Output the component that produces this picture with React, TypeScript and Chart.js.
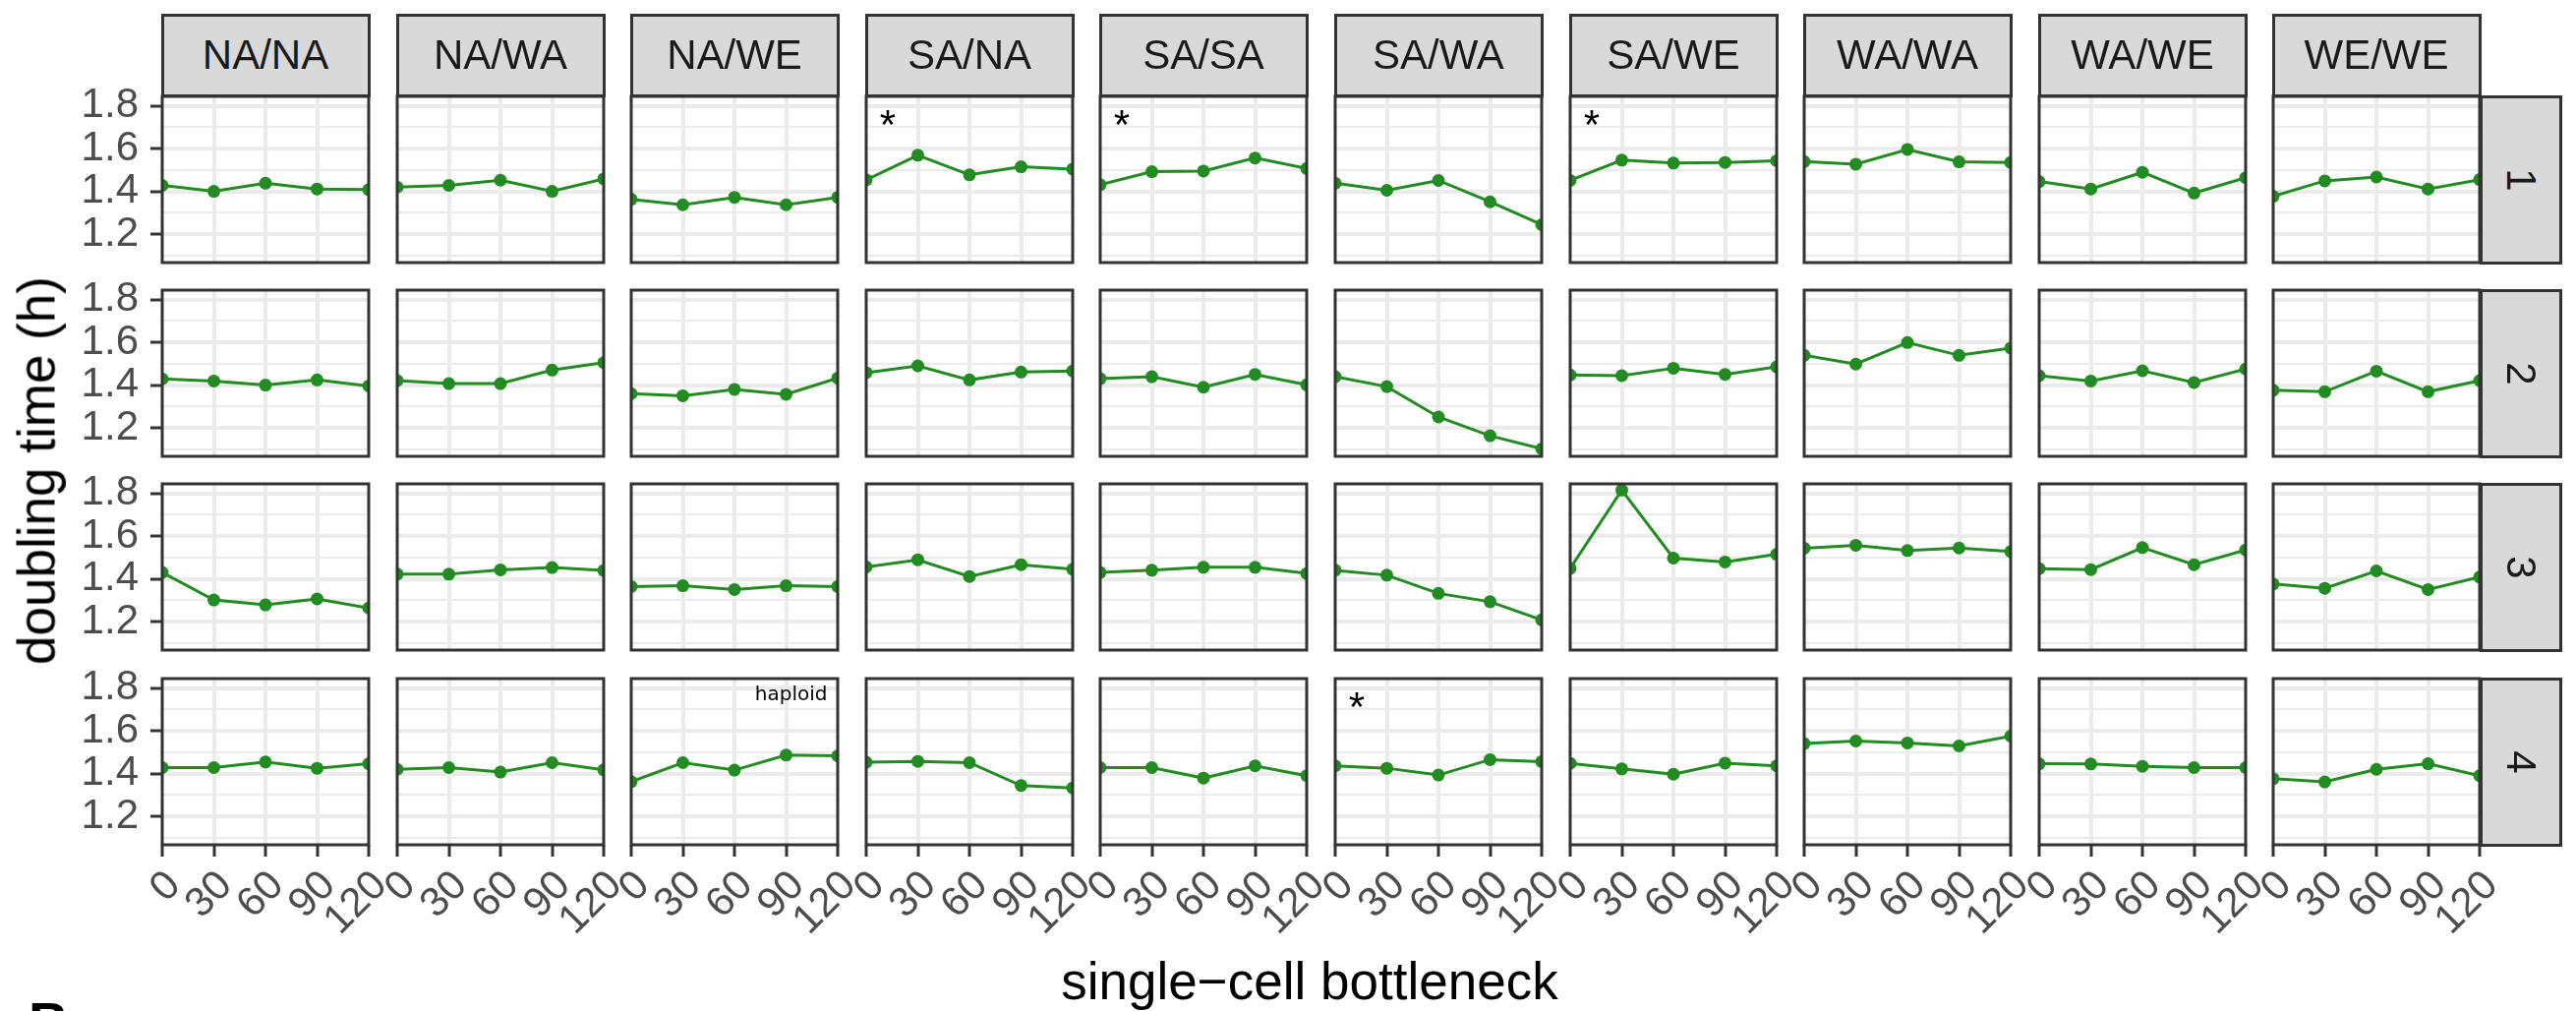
import React, { useEffect, useRef } from "react";
import { Chart, registerables } from "chart.js";

Chart.register(...registerables);

// ---------------- data ----------------
const FACETS = ["NA/NA", "NA/WA", "NA/WE", "SA/NA", "SA/SA", "SA/WA", "SA/WE", "WA/WA", "WA/WE", "WE/WE"];
const REPLICATES = ["1", "2", "3", "4"];
const BOTTLENECKS = [0, 30, 60, 90, 120];
const X_TICK_LABELS = ["0", "30", "60", "90", "120"];
const Y_MAJOR_TICKS = [1.2, 1.4, 1.6, 1.8];
const Y_MINOR_TICKS = [1.1, 1.3, 1.5, 1.7];
const Y_MIN = 1.067;
const Y_MAX = 1.844;

const DOUBLING_REP1 = [
  [1.428, 1.400, 1.438, 1.411, 1.408],
  [1.420, 1.428, 1.452, 1.400, 1.458],
  [1.363, 1.337, 1.372, 1.337, 1.372],
  [1.454, 1.569, 1.477, 1.515, 1.504],
  [1.431, 1.492, 1.495, 1.556, 1.507],
  [1.438, 1.405, 1.451, 1.351, 1.244],
  [1.451, 1.546, 1.532, 1.535, 1.543],
  [1.539, 1.527, 1.596, 1.538, 1.535],
  [1.446, 1.411, 1.489, 1.392, 1.464],
  [1.377, 1.449, 1.467, 1.411, 1.455],
];
const DOUBLING_REP2 = [
  [1.429, 1.419, 1.400, 1.424, 1.396],
  [1.421, 1.407, 1.407, 1.470, 1.505],
  [1.360, 1.350, 1.380, 1.357, 1.433],
  [1.458, 1.490, 1.424, 1.461, 1.466],
  [1.430, 1.439, 1.390, 1.450, 1.401],
  [1.439, 1.393, 1.251, 1.163, 1.102],
  [1.447, 1.444, 1.479, 1.450, 1.485],
  [1.539, 1.498, 1.599, 1.539, 1.573],
  [1.444, 1.419, 1.467, 1.412, 1.475],
  [1.376, 1.369, 1.465, 1.369, 1.421],
];
const DOUBLING_REP3 = [
  [1.430, 1.301, 1.278, 1.306, 1.264],
  [1.422, 1.422, 1.442, 1.453, 1.439],
  [1.364, 1.368, 1.350, 1.368, 1.364],
  [1.456, 1.489, 1.411, 1.466, 1.445],
  [1.430, 1.440, 1.454, 1.454, 1.425],
  [1.440, 1.417, 1.332, 1.293, 1.208],
  [1.449, 1.815, 1.497, 1.479, 1.515],
  [1.543, 1.557, 1.532, 1.544, 1.528],
  [1.448, 1.443, 1.546, 1.466, 1.535],
  [1.376, 1.356, 1.437, 1.350, 1.408],
];
const DOUBLING_REP4 = [
  [1.428, 1.428, 1.454, 1.425, 1.446],
  [1.420, 1.428, 1.407, 1.451, 1.417],
  [1.362, 1.451, 1.416, 1.486, 1.483],
  [1.453, 1.457, 1.451, 1.344, 1.333],
  [1.428, 1.428, 1.379, 1.436, 1.390],
  [1.436, 1.425, 1.393, 1.465, 1.456],
  [1.448, 1.422, 1.397, 1.449, 1.436],
  [1.540, 1.552, 1.543, 1.529, 1.575],
  [1.446, 1.445, 1.434, 1.428, 1.428],
  [1.376, 1.361, 1.420, 1.446, 1.390],
];
const DOUBLING_BY_REP = [DOUBLING_REP1, DOUBLING_REP2, DOUBLING_REP3, DOUBLING_REP4];

const STAR_PANELS = [["SA/NA", "1"], ["SA/SA", "1"], ["SA/WE", "1"], ["SA/WA", "4"]];
const STAR_AT = [12.5, 1.733];
const NOTE_PANEL = ["NA/WE", "4"];
const NOTE_TEXT = "haploid";
const NOTE_AT = [114, 1.768];

const X_TITLE = "single\u2212cell bottleneck";
const Y_TITLE = "doubling time (h)";

// ---------------- layout / style ----------------
const GREEN = "#228B22";
const GRID = "#EBEBEB";
const DARK = "#333333";
const TICK_TEXT = "#4D4D4D";
const FONT = '"Liberation Sans", Arial, Helvetica, sans-serif';

const PANEL_W = 210;
const PANEL_H = 169;
const COL_X = [165, 404, 642, 881, 1119, 1358, 1597, 1835, 2074, 2312];
const ROW_Y = [98, 295, 492, 690];
const PAD_L = 170;
const PAD_R = 70;
const PAD_T = 40;
const PAD_B = 140;

type Note = { x: number; y: number; text: string; size: number; family: string; align: CanvasTextAlign; dy: number };

const isMajorY = (v: number) => Y_MAJOR_TICKS.some((t) => Math.abs(t - v) < 1e-6);

function Panel({ values, col, row, notes }: { values: number[]; col: number; row: number; notes: Note[] }) {
  const ref = useRef<HTMLCanvasElement | null>(null);
  const isLeft = col === 0;
  const isBottom = row === REPLICATES.length - 1;
  const W = PAD_L + PANEL_W + PAD_R;
  const H = PAD_T + PANEL_H + PAD_B;

  useEffect(() => {
    const canvas = ref.current;
    if (!canvas) return;
    const framePlugin = {
      id: "panelFrame",
      afterDatasetsDraw(chart: any) {
        const { ctx, chartArea: a, scales } = chart;
        ctx.save();
        notes.forEach((n) => {
          ctx.font = `${n.size}px ${n.family}`;
          ctx.fillStyle = "#000000";
          ctx.textAlign = n.align;
          ctx.textBaseline = "middle";
          ctx.fillText(n.text, scales.x.getPixelForValue(n.x), scales.y.getPixelForValue(n.y) + n.dy);
        });
        ctx.strokeStyle = DARK;
        ctx.lineWidth = 3;
        ctx.strokeRect(a.left, a.top, a.right - a.left, a.bottom - a.top);
        ctx.restore();
      },
    };
    const chart = new Chart(canvas, {
      type: "line",
      data: {
        datasets: [
          {
            data: BOTTLENECKS.map((x, i) => ({ x, y: values[i] })),
            borderColor: GREEN,
            backgroundColor: GREEN,
            borderWidth: 3,
            pointRadius: 6.5,
            pointHoverRadius: 6.5,
            pointBorderWidth: 0,
            pointBackgroundColor: GREEN,
            tension: 0,
            clip: 0,
          } as any,
        ],
      },
      options: {
        responsive: false,
        animation: false,
        events: [],
        layout: { padding: { top: PAD_T, right: PAD_R, bottom: 0, left: 0 } },
        plugins: { legend: { display: false }, tooltip: { enabled: false } },
        scales: {
          x: {
            type: "linear",
            min: 0,
            max: 120,
            afterBuildTicks: (s: any) => {
              s.ticks = BOTTLENECKS.map((v) => ({ value: v }));
            },
            afterFit: (s: any) => {
              s.height = PAD_B;
            },
            ticks: {
              display: isBottom,
              autoSkip: false,
              minRotation: 45,
              maxRotation: 45,
              padding: 5,
              labelOffset: 12,
              color: TICK_TEXT,
              font: { size: 42, family: FONT },
              callback: (v: any) => {
                const i = BOTTLENECKS.indexOf(Number(v));
                return i >= 0 ? X_TICK_LABELS[i] : "";
              },
            },
            grid: {
              color: (c: any) =>
                c.tick && (c.tick.value === BOTTLENECKS[0] || c.tick.value === BOTTLENECKS[BOTTLENECKS.length - 1])
                  ? "rgba(0,0,0,0)"
                  : GRID,
              lineWidth: 4,
              drawTicks: isBottom,
              tickLength: 12,
              tickColor: DARK,
              tickWidth: 3,
            },
            border: { display: false },
          },
          y: {
            type: "linear",
            min: Y_MIN,
            max: Y_MAX,
            afterBuildTicks: (s: any) => {
              s.ticks = [...Y_MINOR_TICKS, ...Y_MAJOR_TICKS].sort((a, b) => a - b).map((v) => ({ value: v }));
            },
            afterFit: (s: any) => {
              s.width = PAD_L;
            },
            ticks: {
              display: isLeft,
              autoSkip: false,
              padding: 12,
              color: TICK_TEXT,
              font: { size: 42, family: FONT },
              callback: (v: any) => (isMajorY(Number(v)) ? Number(v).toFixed(1) : ""),
            },
            grid: {
              color: GRID,
              lineWidth: (c: any) => (c.tick && isMajorY(c.tick.value) ? 4 : 2),
              drawTicks: isLeft,
              tickLength: 12,
              tickColor: (c: any) => (c.tick && isMajorY(c.tick.value) ? DARK : "rgba(0,0,0,0)"),
              tickWidth: 3,
            },
            border: { display: false },
          },
        },
      } as any,
      plugins: [framePlugin],
    });
    return () => chart.destroy();
  }, []);

  return (
    <canvas
      ref={ref}
      width={W}
      height={H}
      style={{ position: "absolute", left: COL_X[col] - PAD_L, top: ROW_Y[row] - PAD_T, width: W, height: H }}
    />
  );
}

export default function App() {
  const panels: React.ReactNode[] = [];
  REPLICATES.forEach((rep, r) => {
    FACETS.forEach((facet, c) => {
      const notes: Note[] = [];
      if (STAR_PANELS.some(([f, rr]) => f === facet && rr === rep)) {
        notes.push({ x: STAR_AT[0], y: STAR_AT[1], text: "*", size: 42, family: FONT, align: "center", dy: 7 });
      }
      if (NOTE_PANEL[0] === facet && NOTE_PANEL[1] === rep) {
        notes.push({ x: NOTE_AT[0], y: NOTE_AT[1], text: NOTE_TEXT, size: 20, family: '"DejaVu Sans", sans-serif', align: "right", dy: 0 });
      }
      panels.push(<Panel key={`${facet}-${rep}`} values={DOUBLING_BY_REP[r][c]} col={c} row={r} notes={notes} />);
    });
  });

  const stripBase: React.CSSProperties = {
    position: "absolute",
    boxSizing: "border-box",
    border: `3px solid ${DARK}`,
    background: "#D9D9D9",
    display: "flex",
    alignItems: "center",
    justifyContent: "center",
    fontFamily: FONT,
    fontSize: 42,
    color: "#1A1A1A",
    whiteSpace: "nowrap",
  };

  return (
    <div
      style={{
        position: "fixed",
        left: 0,
        top: 0,
        width: 2620,
        height: 1028,
        overflow: "hidden",
        background: "#FFFFFF",
      }}
    >
      {panels}
      {FACETS.map((f, c) => (
        <div key={`strip-${f}`} style={{ ...stripBase, left: COL_X[c] - 1.5, top: 14, width: PANEL_W + 3, height: 84.5 }}>
          {f}
        </div>
      ))}
      {REPLICATES.map((rep, r) => (
        <div
          key={`rstrip-${rep}`}
          style={{ ...stripBase, left: COL_X[COL_X.length - 1] + PANEL_W - 0.5, top: ROW_Y[r] - 1.5, width: 84.5, height: PANEL_H + 3 }}
        >
          <span style={{ display: "inline-block", transform: "rotate(90deg)" }}>{rep}</span>
        </div>
      ))}
      <div
        style={{
          position: "absolute",
          left: 37 - 300,
          top: 478 - 26.5,
          width: 600,
          height: 53,
          lineHeight: "53px",
          fontSize: 53,
          fontFamily: FONT,
          color: "#000",
          textAlign: "center",
          transform: "rotate(-90deg)",
          whiteSpace: "nowrap",
        }}
      >
        {Y_TITLE}
      </div>
      <div
        style={{
          position: "absolute",
          left: 1332 - 500,
          top: 971,
          width: 1000,
          height: 53,
          lineHeight: "53px",
          fontSize: 53,
          fontFamily: FONT,
          color: "#000",
          textAlign: "center",
          whiteSpace: "nowrap",
        }}
      >
        {X_TITLE}
      </div>
      <div
        style={{
          position: "absolute",
          left: 29,
          top: 1011,
          fontSize: 56,
          lineHeight: "56px",
          fontWeight: "bold",
          fontFamily: FONT,
          color: "#000",
        }}
      >
        B
      </div>
    </div>
  );
}
